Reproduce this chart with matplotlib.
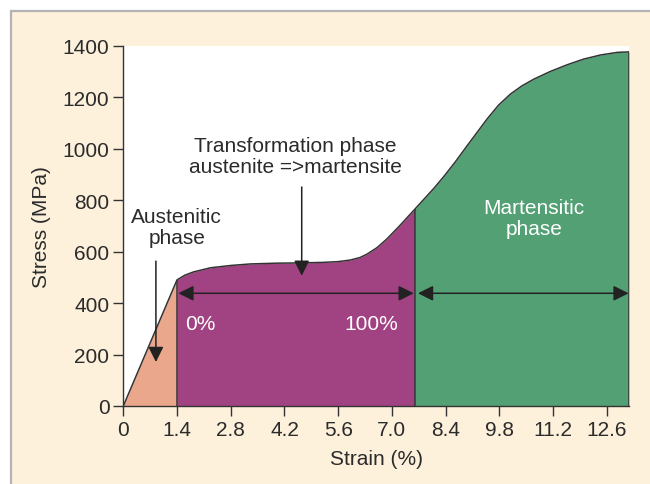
import numpy as np
import matplotlib
matplotlib.use("Agg")
import matplotlib.pyplot as plt
from matplotlib.patches import Rectangle

plt.rcParams['font.family'] = ['Liberation Sans', 'DejaVu Sans']

# ---- data ----
strain = np.array([0.0, 1.4, 1.6, 1.83, 2.27, 2.8, 3.31, 4.0, 4.61, 5.2, 5.6,
                   5.91, 6.17, 6.35, 6.61, 6.87, 7.2, 7.6, 8.09, 8.35, 8.65,
                   8.96, 9.22, 9.48, 9.78, 10.09, 10.39, 10.70, 11.13, 11.57,
                   12.0, 12.44, 12.87, 13.18])
stress = np.array([0, 490, 508, 521, 537, 546, 552, 555, 556, 558, 561,
                   567, 577, 590, 615, 649, 700, 765, 845, 891, 948,
                   1011, 1063, 1115, 1169, 1212, 1244, 1270, 1300, 1326,
                   1348, 1364, 1374, 1376])
phase_bounds = [1.4, 7.6]
xticks = [0, 1.4, 2.8, 4.2, 5.6, 7.0, 8.4, 9.8, 11.2, 12.6]
xtick_labels = ['0', '1.4', '2.8', '4.2', '5.6', '7.0', '8.4', '9.8', '11.2', '12.6']
yticks = [0, 200, 400, 600, 800, 1000, 1200, 1400]
phase_colors = ['#EAA78B', '#A14382', '#52A074']

TXT = '#2b2b2b'
FS = 15

fig = plt.figure(figsize=(6.5, 4.85), dpi=100, facecolor='white')
# cream panel with grey top/left border
fig.patches.append(Rectangle((11 / 650, -0.02), 1.2, 1 - 12 / 485 + 0.02,
                             transform=fig.transFigure, facecolor='#FDF1DC',
                             edgecolor='#b3b3b3', linewidth=1.6, zorder=-10))

ax = fig.add_axes([123.3 / 650, 1 - 407 / 485, 505.7 / 650, 360.3 / 485])
ax.set_facecolor('white')

b1, b2 = phase_bounds
ax.fill_between(strain, stress, where=strain <= b1, color=phase_colors[0], lw=0)
ax.fill_between(strain, stress, where=(strain >= b1) & (strain <= b2),
                color=phase_colors[1], lw=0)
ax.fill_between(strain, stress, where=strain >= b2, color=phase_colors[2], lw=0)
ax.plot(strain, stress, color='#333333', lw=1.1, zorder=3,
        solid_joinstyle='round')
edges = [b1, b2, strain[-1]]
ax.vlines(edges, 0, np.interp(edges, strain, stress), color='#333333', lw=1.1, zorder=3)

ax.set_xlim(0, strain[-1])
ax.set_ylim(0, 1400)
ax.set_xticks(xticks)
ax.set_xticklabels(xtick_labels)
ax.set_yticks(yticks)
for s in ['top', 'right']:
    ax.spines[s].set_visible(False)
for s in ['left', 'bottom']:
    ax.spines[s].set_color('#333333')
    ax.spines[s].set_linewidth(1.0)
ax.tick_params(direction='out', length=7, width=1.0, color='#333333',
               labelsize=FS, labelcolor=TXT, pad=3)

ax.set_xlabel('Strain (%)', fontsize=FS, color=TXT)
ax.xaxis.set_label_coords(0.5, -0.118)
ax.set_ylabel('Stress (MPa)', fontsize=FS, color=TXT)
ax.yaxis.set_label_coords(-0.143, 0.5)

arrow_kw = dict(arrowstyle='-|>', mutation_scale=23, color='#222222',
                lw=1.1, shrinkA=0, shrinkB=0)
dbl_kw = dict(arrowstyle='<|-|>', mutation_scale=23, color='#222222',
              lw=1.1, shrinkA=0, shrinkB=0)

# vertical pointer arrows
ax.annotate('', xy=(0.85, 171), xytext=(0.85, 563), arrowprops=arrow_kw, zorder=5)
ax.annotate('', xy=(4.65, 506), xytext=(4.65, 851), arrowprops=arrow_kw, zorder=5)
# horizontal double arrows
ax.annotate('', xy=(1.435, 438), xytext=(7.57, 438), arrowprops=dbl_kw, zorder=5)
ax.annotate('', xy=(7.68, 438), xytext=(13.17, 438), arrowprops=dbl_kw, zorder=5)

ax.text(1.39, 695, 'Austenitic\nphase', ha='center', va='center', fontsize=FS,
        color=TXT, linespacing=1.1)
ax.text(4.48, 971, 'Transformation phase\naustenite =>martensite', ha='center',
        va='center', fontsize=FS, color=TXT, linespacing=1.1)
ax.text(10.7, 730, 'Martensitic\nphase', ha='center', va='center', fontsize=FS,
        color='white', linespacing=1.1)
ax.text(2.0, 320, '0%', ha='center', va='center', fontsize=FS, color='white')
ax.text(6.46, 320, '100%', ha='center', va='center', fontsize=FS, color='white')

fig.savefig('out.png', dpi=100, facecolor=fig.get_facecolor())
